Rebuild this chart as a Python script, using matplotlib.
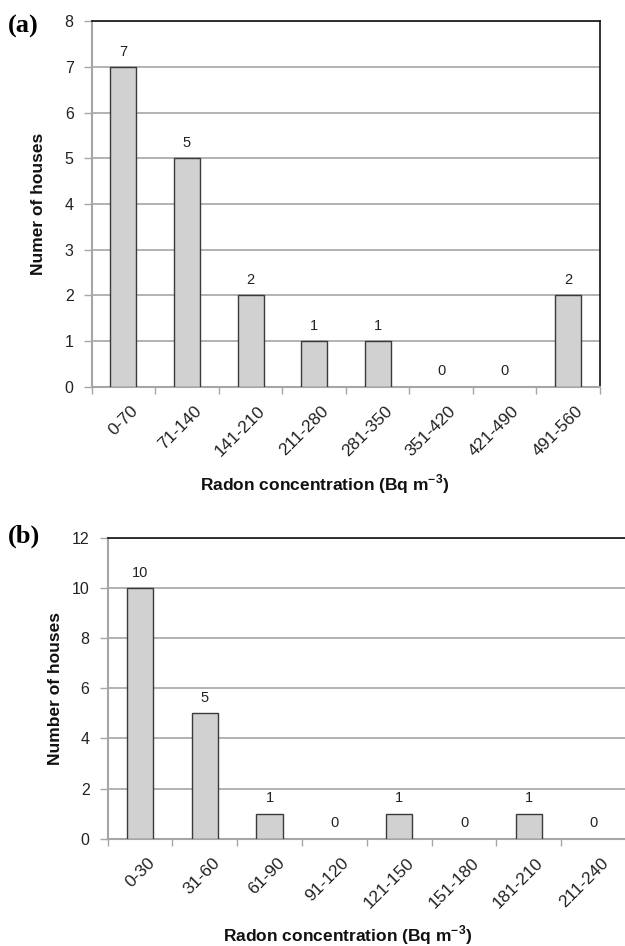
import matplotlib
matplotlib.use("Agg")
import matplotlib.pyplot as plt
import matplotlib.transforms as mtrans
import numpy as np

plt.rcParams['font.family'] = ['Liberation Sans', 'DejaVu Sans']
plt.rcParams['mathtext.fontset'] = 'custom'
plt.rcParams['mathtext.rm'] = 'Liberation Sans'
plt.rcParams['mathtext.bf'] = 'Liberation Sans:bold'

### Data

cats_a = ['0-70', '71-140', '141-210', '211-280', '281-350', '351-420', '421-490', '491-560']
houses_a = [7, 5, 2, 1, 1, 0, 0, 2]

cats_b = ['0-30', '31-60', '61-90', '91-120', '121-150', '151-180', '181-210', '211-240']
houses_b = [10, 5, 1, 0, 1, 0, 1, 0]

BAR_FILL = '#d0d1d0'
BAR_EDGE = '#3a3a3a'
GRID = '#a6a6a6'
XLABEL = 'Radon concentration (Bq m$^{\\mathregular{-3}}$)'


def draw_panel(ax, cats, vals, ymax, ystep, ylabel, tag, right_border):
    x = np.arange(len(cats))
    lw = [1.0 if v > 0 else 0 for v in vals]
    ax.bar(x, vals, width=0.41, color=BAR_FILL, edgecolor=BAR_EDGE, linewidth=lw, zorder=3)
    for xi, v in zip(x, vals):
        ax.annotate(str(v), (xi, v), xytext=(0, 6), textcoords='offset points',
                    ha='center', va='bottom', fontsize=10.5, color='#222222')

    ax.set_xlim(-0.5, len(cats) - 0.5)
    ax.set_ylim(0, ymax)
    ax.set_yticks(np.arange(0, ymax + 1, ystep))
    ax.yaxis.grid(True, color=GRID, linewidth=1.2, zorder=0)
    ax.set_axisbelow(True)

    # category boundaries as tick marks, names on minor ticks
    ax.set_xticks(np.arange(len(cats) + 1) - 0.5)
    ax.set_xticklabels([])
    ax.set_xticks(x, minor=True)
    ax.set_xticklabels(cats, minor=True, rotation=45, ha='right', va='top',
                       rotation_mode='anchor', fontsize=12.5, color='#222222')
    ax.tick_params(axis='x', which='minor', length=0, pad=12)
    ax.tick_params(axis='x', which='major', length=5, color=GRID, width=1.0)
    ax.tick_params(axis='y', length=6, color=GRID, width=1.0, labelsize=11.5,
                   labelcolor='#222222', pad=7)
    shift = mtrans.ScaledTranslation(0.07, 0, ax.figure.dpi_scale_trans)
    for lbl in ax.get_xticklabels(minor=True):
        lbl.set_transform(lbl.get_transform() + shift)

    ax.spines['left'].set_color(GRID)
    ax.spines['bottom'].set_color(GRID)
    ax.spines['left'].set_linewidth(1.5)
    ax.spines['bottom'].set_linewidth(1.5)
    ax.spines['top'].set_color('#111111')
    ax.spines['top'].set_linewidth(1.2)
    if right_border:
        ax.spines['right'].set_color('#111111')
        ax.spines['right'].set_linewidth(1.2)
    else:
        ax.spines['right'].set_visible(False)

    ax.set_ylabel(ylabel, fontsize=12.5, fontweight='bold', color='#111111')
    ax.set_xlabel(XLABEL, fontsize=12.5, fontweight='bold', color='#111111')
    return ax.text(0, 1.0, tag, transform=ax.transAxes, fontsize=19, fontweight='bold',
                   family='Liberation Serif', ha='left', va='center')


fig = plt.figure(figsize=(6.25, 9.46), dpi=100)
ax_a = fig.add_axes([0.1467, 0.5914, 0.8133, 0.3859])
ax_b = fig.add_axes([0.1722, 0.1134, 0.8294, 0.3182])

tag_a = draw_panel(ax_a, cats_a, houses_a, 8, 1, 'Numer of houses', '(a)', True)
tag_b = draw_panel(ax_b, cats_b, houses_b, 12, 2, 'Number of houses', '(b)', False)

ax_a.yaxis.set_label_coords(-0.09, 0.5)
ax_a.xaxis.set_label_coords(0.459, -0.235)
ax_b.yaxis.set_label_coords(-0.086, 0.5)
ax_b.xaxis.set_label_coords(0.463, -0.28)
tag_a.set_position((-0.165, 0.986))
tag_b.set_position((-0.192, 1.006))

fig.savefig('out.png', dpi=100)
